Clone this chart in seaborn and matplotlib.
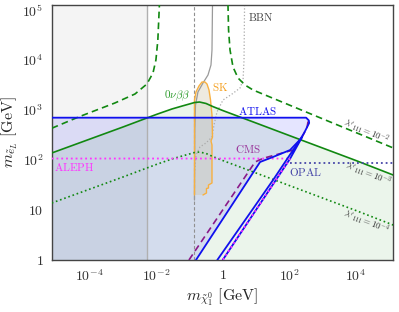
import numpy as np
import pandas as pd
import matplotlib
matplotlib.use("Agg")
import matplotlib.pyplot as plt
import seaborn as sns

# ---------------- data (GeV) ----------------
x_lim = [7.2e-6, 1.35e5]
y_lim = [1.0, 1.26e5]

x_ticks = [1e-5, 1e-4, 1e-3, 1e-2, 1e-1, 1, 10, 1e2, 1e3, 1e4, 1e5]
x_ticklabels = ['', r'$10^{-4}$', '', r'$10^{-2}$', '', r'$1$', '', r'$10^{2}$', '', r'$10^{4}$', '']
y_ticks = [1, 10, 1e2, 1e3, 1e4, 1e5]
y_ticklabels = [r'$1$', r'$10$', r'$10^{2}$', r'$10^{3}$', r'$10^{4}$', r'$10^{5}$']

m_gray_edge = 5.25e-3       # grey excluded band edge
m_vertical_dashed = 0.1415  # dashed vertical line

# 0vbb curves, lambda'_111 = 1e-3 (solid) and 1e-4 (dotted)
nbb_mchi = [7.2e-6, 1e-3, 1e-2, 0.030, 0.060, 0.1, 0.141, 0.2, 0.316, 0.5, 1, 10, 100, 1e3, 1e4, 1.35e5]
nbb_me_l3 = [138, 457, 813, 1050, 1200, 1320, 1410, 1445, 1350, 1175, 977, 550, 309, 174, 98, 50]
nbb_me_l4 = [13.8, 45.7, 81.3, 105, 120, 132, 141, 144.5, 135, 117.5, 97.7, 55, 30.9, 17.4, 9.8, 5.0]

# lambda'_111 = 1e-2 (dashed), two branches
nbb2_left_mchi = [7.2e-6, 5e-5, 5.7e-4, 2.3e-3, 5.25e-3, 8e-3, 9.8e-3, 1.12e-2, 1.25e-2]
nbb2_left_me = [431, 741, 1380, 2090, 3310, 5500, 1e4, 2.5e4, 1.3e5]
nbb2_right_mchi = [1.44, 1.50, 1.66, 2.04, 2.89, 4.68, 8.18, 851, 1.35e5]
nbb2_right_me = [1.3e5, 3.98e4, 1.58e4, 7244, 4365, 3162, 2512, 698, 174]

# ATLAS contour
atlas_mchi = [7.2e-6, 323, 389, 398, 281, 213, 106, 32.7, 13.3, 0.157]
atlas_me = [702, 702, 617, 550, 347, 257, 158, 115, 91.2, 1.0]

# ATLAS narrow band (compressed region)
band_mchi = [0.687, 32.7, 213, 245, 107, 1.0]
band_me = [1.0, 39.8, 257, 288, 107, 1.0]

# CMS contour
cms_mchi = [0.0966, 9.4, 16.4, 131, 245, 346, 371]
cms_me = [1.0, 91.2, 108, 158, 288, 457, 603]

# ALEPH / OPAL
aleph_mchi = [7.2e-6, 107, 1.0]
aleph_me = [107, 107, 1.0]
opal_mchi = [107, 1.35e5]
opal_me = [89, 89]

# SK region
sk_mchi = [0.1415, 0.1415, 0.157, 0.193, 0.238, 0.293, 0.337, 0.387, 0.430, 0.476, 0.493,
           0.444, 0.476, 0.476, 0.373, 0.373, 0.325, 0.325, 0.255]
sk_me = [19.95, 1585, 2291, 3020, 3631, 3631, 3311, 2512, 1585, 794, 288,
         240, 200, 34.7, 31.6, 27.5, 26.9, 21.9, 19.95]

# grey solid and grey dotted (BBN) curves
gsolid_mchi = [0.493, 0.476, 0.444, 0.361, 0.255, 0.180, 0.152, 0.1445, 0.1415]
gsolid_me = [1.26e5, 1.58e4, 7943, 5012, 3467, 2291, 1259, 398, 15.8]
gdot_mchi = [4.54, 4.38, 4.09, 3.32, 1.91, 1.02, 0.673, 0.547, 0.476, 0.314, 0.207, 0.157, 0.1415]
gdot_me = [1.26e5, 1e4, 3981, 2754, 2089, 1585, 912, 501, 288, 219, 182, 126, 50]

# ---------------- style ----------------
sns.set_theme(style="white")
plt.rcParams['mathtext.fontset'] = 'cm'
plt.rcParams['font.family'] = ['DejaVu Serif']

GREEN = '#118811'
BLUE = '#1010ee'
PURPLE = '#8a1a8a'
MAGENTA = '#ff33ff'
OPALC = '#4646a8'
ORANGE = '#f8b040'
GREY = '#9a9a9a'

fig = plt.figure(figsize=(3.99, 3.12), dpi=100)
ax = fig.add_axes([0.1296, 0.1667, 0.8561, 0.8173])
ax.set_xscale('log')
ax.set_yscale('log')
ax.set_xlim(*x_lim)
ax.set_ylim(*y_lim)

# fills
ax.axvspan(x_lim[0], m_gray_edge, color='black', alpha=0.045, lw=0, zorder=0)
ax.fill_between(nbb_mchi, y_lim[0], nbb_me_l3, color='green', alpha=0.08, lw=0, zorder=0)
ax.fill(atlas_mchi + [x_lim[0]], atlas_me + [y_lim[0]], color='blue', alpha=0.10, lw=0, zorder=0)
ax.fill(sk_mchi, sk_me, facecolor='#c8bc98', alpha=0.3, edgecolor='none', zorder=1)


def line(x, y, color, ls='-', lw=1.2, z=3, alpha=1.0):
    df = pd.DataFrame({'x': x, 'y': y})
    sns.lineplot(data=df, x='x', y='y', sort=False, estimator=None, ax=ax,
                 color=color, linestyle=ls, lw=lw, zorder=z, alpha=alpha)


# vertical lines
ax.axvline(m_gray_edge, color='#b0b0b0', lw=1.0, zorder=2)
ax.axvline(m_vertical_dashed, color='#909090', lw=0.8, ls=(0, (3, 2)), zorder=2)

# grey curves
line(gsolid_mchi, gsolid_me, GREY, '-', 0.9, 2)
line(gdot_mchi, gdot_me, '#aaaaaa', ':', 0.9, 2)

# SK outline
line(sk_mchi, sk_me, ORANGE, '-', 1.0, 3)

# 0vbb
line(nbb_mchi, nbb_me_l3, GREEN, '-', 1.2, 4)
line(nbb_mchi, nbb_me_l4, GREEN, ':', 1.2, 4)
line(nbb2_left_mchi, nbb2_left_me, GREEN, (0, (4, 2.5)), 1.2, 4)
line(nbb2_right_mchi, nbb2_right_me, GREEN, (0, (4, 2.5)), 1.2, 4)

# LEP
line(aleph_mchi, aleph_me, MAGENTA, ':', 1.3, 5)
line(opal_mchi, opal_me, OPALC, ':', 1.3, 5)

# CMS + ATLAS
line(cms_mchi, cms_me, PURPLE, (0, (4, 2.5)), 1.2, 5)
line(atlas_mchi, atlas_me, BLUE, '-', 1.3, 6)
line(band_mchi, band_me, BLUE, '-', 1.3, 6)
line(aleph_mchi[1:], aleph_me[1:], MAGENTA, ':', 1.3, 7)

# labels
fs = 8
ax.text(14.3, 7.24e4, r'$\mathrm{BBN}$', color='#444444', fontsize=fs, ha='center', va='center')
ax.text(0.85, 2884, r'$\mathrm{SK}$', color='#f5a020', fontsize=fs, ha='center', va='center')
ax.text(0.042, 1905, r'$0\nu\beta\beta$', color='#2a9a2a', fontsize=fs, ha='center', va='center')
ax.text(10.8, 955, r'$\mathrm{ATLAS}$', color=BLUE, fontsize=fs, ha='center', va='center')
ax.text(5.78, 166, r'$\mathrm{CMS}$', color='#993399', fontsize=fs, ha='center', va='center')
ax.text(3.32e-5, 72.4, r'$\mathrm{ALEPH}$', color=MAGENTA, fontsize=fs, ha='center', va='center')
ax.text(301, 57.5, r'$\mathrm{OPAL}$', color=OPALC, fontsize=fs, ha='center', va='center')

lfs = 6.5
ax.text(2.07e4, 380, r"$\lambda'_{111}=10^{-2}$", color='#333333', fontsize=lfs,
        ha='center', va='center', rotation=-22.5, rotation_mode='anchor')
ax.text(2.38e4, 52.5, r"$\lambda'_{111}=10^{-3}$", color='#333333', fontsize=lfs,
        ha='center', va='center', rotation=-21, rotation_mode='anchor')
ax.text(2.07e4, 5.75, r"$\lambda'_{111}=10^{-4}$", color='#333333', fontsize=lfs,
        ha='center', va='center', rotation=-21, rotation_mode='anchor')

# axes
ax.set_xticks(x_ticks)
ax.set_xticklabels(x_ticklabels)
ax.set_yticks(y_ticks)
ax.set_yticklabels(y_ticklabels)
ax.minorticks_off()
ax.tick_params(direction='out', length=3, width=0.8, labelsize=10, colors='#333333', pad=3)
for s in ax.spines.values():
    s.set_color('#444444')
    s.set_linewidth(1.0)
ax.set_xlabel(r'$m_{\tilde{\chi}_1^0}\ [\mathrm{GeV}]$', fontsize=11.5, labelpad=2)
ax.set_ylabel(r'$m_{\tilde{e}_L}\ [\mathrm{GeV}]$', fontsize=11.5, labelpad=2)

fig.savefig('out.png', dpi=100)
